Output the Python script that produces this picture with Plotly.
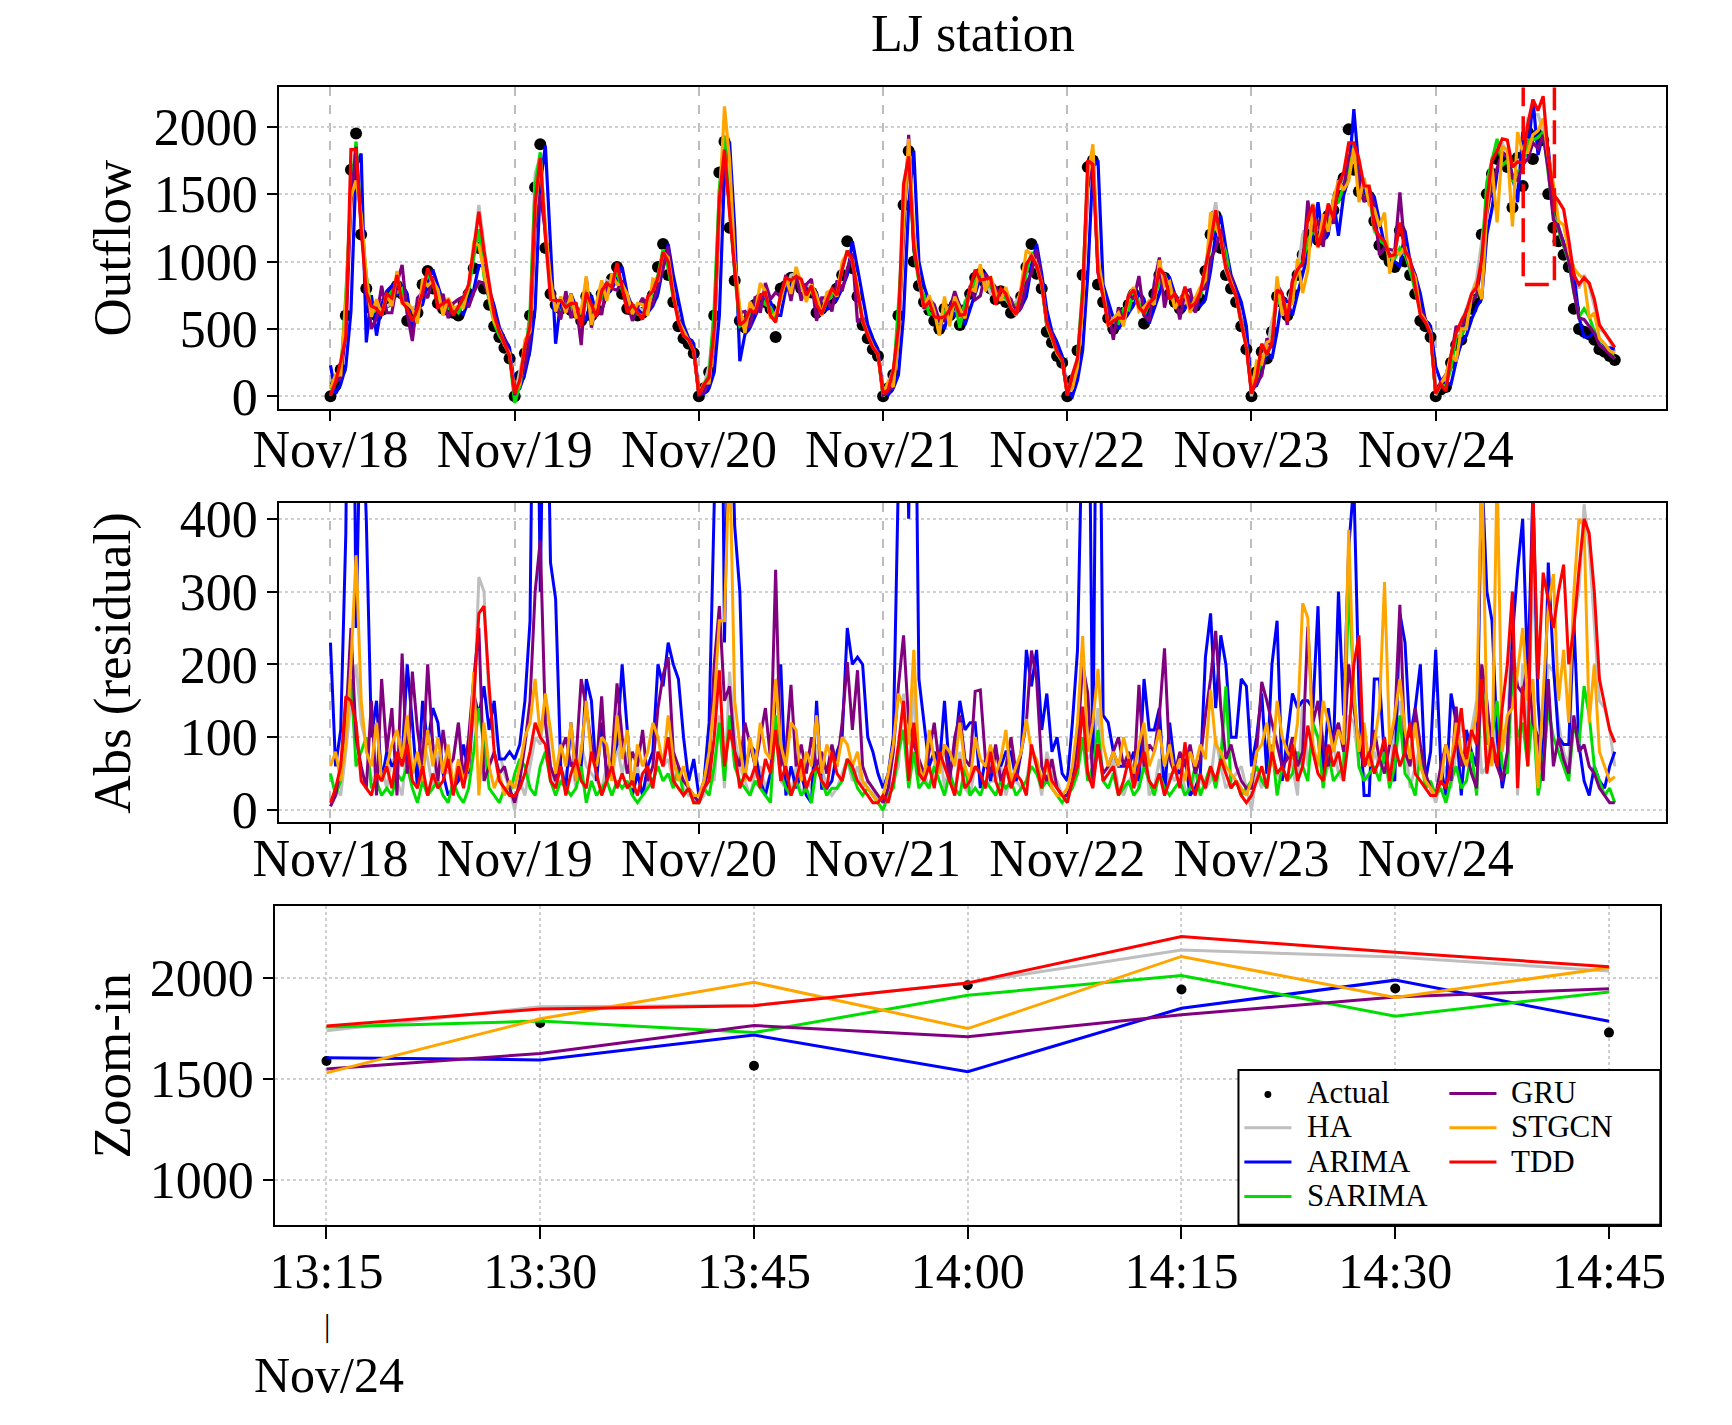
# LJ station: outflow, abs residuals and zoom-in of the model predictions
import plotly.graph_objects as go

days = ["Nov/18", "Nov/19", "Nov/20", "Nov/21", "Nov/22", "Nov/23", "Nov/24"]
per_day = 36  # half-hour samples per day

# observed outflow, one row per day
actual = [
    0, 80, 200, 600, 1680, 1950, 1200, 800, 650, 600, 640, 700, 760, 820, 760, 560, 600, 620, 830, 930, 800, 690, 650, 640, 620, 600, 700, 760, 950, 1100, 800, 680, 520, 440, 360, 280,
    0, 150, 320, 600, 1550, 1870, 1100, 760, 680, 650, 680, 640, 620, 560, 740, 600, 640, 760, 800, 870, 960, 760, 650, 640, 600, 620, 680, 750, 960, 1130, 900, 700, 520, 430, 390, 320,
    0, 60, 180, 600, 1660, 1890, 1250, 860, 560, 510, 600, 680, 720, 700, 650, 440, 800, 820, 880, 850, 800, 780, 770, 620, 650, 680, 720, 800, 900, 1150, 950, 740, 530, 430, 350, 300,
    0, 60, 160, 600, 1420, 1820, 1000, 820, 700, 640, 560, 500, 650, 600, 680, 530, 640, 760, 880, 910, 840, 800, 720, 780, 700, 620, 660, 740, 960, 1130, 910, 800, 480, 400, 300, 250,
    0, 120, 340, 900, 1700, 1750, 830, 700, 580, 500, 560, 620, 680, 760, 720, 540, 650, 760, 900, 880, 760, 700, 650, 720, 700, 670, 720, 930, 1200, 1340, 1100, 900, 800, 700, 520, 350,
    0, 180, 330, 280, 480, 740, 700, 600, 760, 900, 1050, 1200, 1340, 1160, 1200, 1340, 1380, 1490, 1620, 1980, 1680, 1520, 1500, 1480, 1300, 1120, 1050, 1000, 960, 1230, 1000, 900, 760, 560, 520, 440,
    0, 50, 70, 250, 380, 420, 560, 650, 720, 1200, 1500, 1650, 1760, 1770, 1700, 1400, 1770, 1560, 1960, 1760, 1940, 1900, 1500, 1250, 1150, 1050, 960, 650, 500, 480, 460, 420, 350, 330, 300, 270,
]

# prediction minus actual for every model (sign)
err_ha = [
    5, 30, -20, 80, -150, -200, 120, 90, -40, 50, 60, -30, -70, 40, -20, 90, 50, 60, -100, -70, 30, 80, 60, 50, 70, 120, 40, 50, 130, 320, 300, 150, 110, 80, 50, 30,
    0, 40, 20, -60, 100, -90, 150, 60, -30, 40, -50, 70, 30, 90, -60, 50, 40, -30, 60, -40, -90, 50, 80, 30, 60, 20, -40, 30, -80, -60, 70, 40, 60, 30, 20, 20,
    10, 20, 50, -40, -130, 30, 190, 100, 60, 40, 20, -50, -60, 30, 50, 110, -40, -30, 20, 60, -20, 40, 30, 90, 60, 30, 20, -30, 50, -70, 40, 60, 30, 40, 30, 10,
    0, 30, 40, -60, 160, -40, 170, 40, -50, 30, 60, 90, -30, 60, 20, 80, 30, 20, -60, -50, 30, -40, 40, -60, 20, 50, 40, 30, -40, -80, 60, 20, 80, 50, 40, 20,
    10, 40, -60, -90, -70, 80, 140, 40, 50, 70, 30, -20, 40, -50, 30, 100, 20, -30, -70, 30, 50, 40, 60, -30, 20, 50, 40, 30, 40, 100, 60, 30, 40, 50, 60, 30,
    0, 50, -30, 60, 80, -50, 40, 90, 60, 20, 150, 60, -110, 100, 40, -60, 90, 50, -40, -130, 120, 60, -50, 40, -80, 60, 100, 40, 120, -150, 90, 30, 60, 90, 40, 30,
    10, 40, 60, 30, 80, 120, 90, 110, 150, -50, -60, 120, 60, 110, 90, 300, -20, 200, 100, 330, 150, 70, 200, 190, 120, 80, 60, 260, 300, 420, 360, 250, 150, 140, 110, 60,
]
err_arima = [
    230, -60, -110, -380, -1050, -250, 600, -400, 100, -150, 40, 80, 60, -70, 70, 200, -120, 30, -150, -90, 140, 120, 50, 20, 30, 40, -90, -50, -160, -130, 170, 110, 150, 70, 70, 80,
    70, -90, -150, -260, -900, -300, 760, 340, -290, 60, -30, 120, 40, 60, -180, 150, -40, -120, -50, -70, -90, 200, 110, 20, 50, -20, -60, -80, -200, -170, 230, 200, 180, 100, 40, 70,
    20, -40, -120, -420, -1060, -230, 640, 390, -300, -50, -90, -80, -40, 20, 50, 160, -200, -20, -60, 30, 50, 20, 10, 150, -30, -30, -40, -80, -100, -250, 200, 210, 200, 100, 80, 50,
    30, -50, -100, -440, -820, -400, 820, 180, 120, 60, 80, 60, -150, 50, -80, 150, -110, -120, -120, -30, 70, 40, 80, -60, 80, 80, -40, -80, -220, -170, 220, 110, 160, 80, 100, 50,
    40, -120, -220, -560, -800, -50, 920, 130, 120, 80, -60, -60, -60, -80, 40, 180, -110, -110, -140, 20, 120, 60, 50, -70, 20, 30, -50, -210, -270, -140, 240, 200, 100, 100, 180, 170,
    60, -100, -160, 50, -200, -260, 40, 100, -160, -140, -150, -150, -140, 280, -40, -140, 80, -300, -130, -360, 450, 160, 20, 20, 180, 180, 70, 50, 40, -270, 230, 100, 140, 200, 40, 80,
    220, 60, 20, -160, -120, -20, -110, -80, -60, -470, -300, -260, -100, 30, 70, 240, -330, 400, -180, 440, -150, 50, 340, 200, 100, 90, 90, 260, 90, -40, -20, 60, 40, 30, 60, 80,
]
err_sarima = [
    50, 20, -40, 150, -180, -60, 80, 100, -30, 40, -20, 30, 20, -50, 40, 60, -30, 10, -40, -20, 30, 40, 20, 10, 40, 20, -10, 30, 80, 140, 90, 30, 20, 10, 30, 20,
    -50, -70, -60, 30, 20, -60, 80, 40, 20, -40, 30, 20, -30, 60, -10, 40, 20, -30, 40, -20, -40, 30, 40, 20, 10, -20, -30, 40, -60, -40, 50, 30, 60, 20, 30, 10,
    10, 30, -20, 60, -120, 40, 130, 60, -40, 30, 20, -40, 30, -20, 10, 130, -50, 30, -20, 40, 20, -30, 10, 60, -40, 20, 30, -30, 40, -70, 50, 30, 20, 30, 20, 10,
    0, 20, -30, 80, -110, 30, 80, 30, 40, -30, 60, 40, -20, 50, 30, -20, 60, 20, -30, 20, -40, 30, 20, -40, 30, 40, 20, -30, -40, -60, 50, 30, 40, 30, 20, 10,
    20, -30, -50, -100, -40, 60, 110, 40, 30, 50, -20, 30, -40, 20, -30, 60, 40, -20, -50, 30, 20, -30, 40, 20, -30, 60, 20, -40, -60, -30, 70, 170, 30, 40, 20, 30,
    40, -60, -40, 30, -90, 20, -60, 40, -50, 80, -60, -40, -120, 100, 30, -80, 40, -50, -60, -310, 170, 60, -40, 50, -60, 40, 80, 30, 60, -130, 50, 40, 20, 80, 30, 40,
    20, 30, 10, -40, 60, 30, -40, 80, 20, -180, 90, 100, 150, -60, 50, 190, -100, 120, -60, 140, -20, 60, 140, 100, 80, 60, 40, 120, 90, 170, 130, 60, 40, 20, 30, 10,
]
err_gru = [
    5, 20, -60, -120, -250, -100, 60, 30, -150, -20, 180, -80, -140, 20, 215, 50, -190, 110, -60, -200, 90, -40, 110, -60, 70, 120, 40, -100, -180, -250, 40, 60, 80, 50, 60, 30,
    10, -40, -90, -150, -300, -370, 120, 60, 40, -80, 100, -60, 70, -180, 140, -90, 60, -156, 40, -70, -174, 100, 50, -80, 60, 110, -40, -60, -140, -185, 210, 80, 60, 40, 30, 20,
    10, -30, -60, -200, -280, -150, 170, 80, 60, 120, -90, 60, -100, 140, 70, 330, -60, 80, -172, 60, -90, 50, 100, -60, 80, 50, -90, 60, -120, -203, 110, -192, 60, 40, 30, 20,
    10, -30, -80, -170, -240, 120, 90, 70, -50, 80, 120, 60, -90, 40, 100, 130, -70, 60, -163, -165, 70, 50, 90, -40, 60, 100, -50, -80, -120, -219, 180, 60, 40, 70, 30, 20,
    20, -40, -90, -200, -160, 40, 90, 50, 60, -80, 100, -60, 80, -40, 172, 60, -90, 80, 130, -222, 70, 50, -80, 60, 90, -50, 70, -130, -180, -246, 140, 70, 90, 60, 40, 30,
    30, -80, -176, 150, -120, 90, 60, -70, 100, 60, -80, 252, -120, 150, -90, 60, -100, 120, -80, -200, 140, 90, -60, 70, 110, -70, 50, 90, 120, 282, 80, 60, 140, 90, 50, 30,
    20, 60, 90, 40, 142, 60, 80, 50, 30, -200, -150, -80, -60, 40, 80, 220, -170, 160, -200, 120, -100, 40, 180, 60, 100, 70, 50, 130, 80, 90, 60, 50, 30, 20, 10, 10,
]
err_stgcn = [
    60, 80, -40, 90, -200, -350, 150, 80, -60, 120, -40, 60, -90, 110, -70, 130, 50, -80, 40, -110, 60, 100, -50, 90, 30, 70, -40, 60, 190, 20, 120, 60, 30, 50, 20, 40,
    30, -60, 100, -120, -180, -100, 160, 110, -50, 90, -60, 120, -40, 80, 150, -70, 60, 100, -90, 40, -130, 70, 110, -30, 90, 60, -80, 120, -100, -60, 130, 70, 40, 60, 30, 20,
    20, 40, -80, -150, -260, 260, 500, 150, 90, -40, 100, -60, 120, 80, -70, 180, -90, 60, -120, 110, 40, -80, 60, 130, -50, 90, 70, -60, 100, -90, 60, 80, 40, 30, 20, 10,
    20, 50, -90, -160, -140, 90, 220, 60, -40, 110, 70, -50, 90, -80, 60, 120, -60, 40, -100, 70, -60, 90, 50, -70, 110, 40, -60, 80, 125, -80, 70, 40, 60, 30, 20, 20,
    30, -60, -120, -239, -80, 120, 194, 90, -60, 80, 60, -100, 70, 50, -90, 120, 60, -80, 110, -60, 90, -50, 70, 40, -80, 60, 90, -70, 165, -90, 80, 60, 50, 40, 30, 20,
    40, 80, -90, 120, -60, 150, -100, 80, -70, 120, -284, -264, 90, -60, 150, -120, 80, 110, -90, -385, 160, -80, 120, -60, 90, 140, 313, -90, 130, -180, 110, 70, 120, 60, 40, 30,
    20, 40, 90, 60, -120, 80, -60, 100, 130, -480, -120, 60, -470, 80, 130, -140, 190, 250, -150, 180, 30, 160, 280, 324, 150, 220, 120, 300, 400, 390, 120, 200, 80, 60, 40, 46,
]
err_tdd = [
    10, 30, 60, -156, 150, -120, 40, -30, 20, 50, -40, 60, -30, 80, -60, 90, -40, 30, -60, 20, 50, -30, 40, 70, -20, 60, 30, 70, 150, 270, 280, 170, 80, 40, 30, 20,
    20, -30, 50, -80, -120, -100, 90, -40, 30, 60, -20, 50, 70, -40, 30, 80, -50, 20, 40, -60, 30, 50, -30, 40, 20, -50, 60, 30, -80, -60, 100, 40, 30, 20, 30, 10,
    10, 30, -40, -100, -192, -60, 110, 80, -30, 50, 40, -60, 30, 70, -50, 110, -40, 60, -20, 40, 70, -30, 50, 60, -40, 30, 80, -50, 40, -70, 60, 40, 30, 20, 10, 10,
    20, -10, 40, -90, 150, -40, 120, 50, -40, 60, 30, 80, -60, 40, 20, 70, -30, 40, 60, -50, 30, 80, -40, 20, 60, 30, -50, 40, 20, -90, 60, 30, 70, 40, 30, 20,
    10, 40, -60, -142, 50, -30, 90, 40, -50, 60, 20, -40, 70, 30, -60, 80, 40, -30, 50, 20, -40, 60, 30, 93, -40, 20, 50, 30, -60, 40, 70, 50, 30, 40, 20, 10,
    20, -40, 60, 30, -80, 50, 60, -40, 90, 40, -60, 116, 80, -50, 40, 90, -60, 80, 40, -100, 200, 240, 60, 80, -50, 70, 100, 40, 90, 60, 80, 120, 50, 40, 30, 20,
    20, 40, -30, 60, 90, 140, 70, 110, 90, -180, -50, 100, 60, 140, 200, 300, -30, 170, 60, 440, 180, 326, 290, 250, 300, 337, 200, 250, 330, 400, 380, 300, 180, 143, 110, 93,
]

# zoom-in window, Nov/24 afternoon
zoom_ticks = ["13:15", "13:30", "13:45", "14:00", "14:15", "14:30", "14:45"]
zoom_actual = [1588, 1776, 1564, 1962, 1941, 1946, 1728]
zoom_ha = [1737, 1856, 1862, 1973, 2136, 2101, 2032]
zoom_arima = [1604, 1593, 1716, 1535, 1848, 1987, 1784]
zoom_sarima = [1756, 1785, 1728, 1912, 2010, 1809, 1929]
zoom_gru = [1548, 1625, 1763, 1708, 1816, 1904, 1944]
zoom_stgcn = [1529, 1796, 1976, 1748, 2104, 1901, 2048]
zoom_tdd = [1760, 1845, 1861, 1973, 2202, 2125, 2053]

models = ["HA", "ARIMA", "SARIMA", "GRU", "STGCN", "TDD"]
errors = {"HA": err_ha, "ARIMA": err_arima, "SARIMA": err_sarima,
          "GRU": err_gru, "STGCN": err_stgcn, "TDD": err_tdd}
zoom_pred = {"HA": zoom_ha, "ARIMA": zoom_arima, "SARIMA": zoom_sarima,
             "GRU": zoom_gru, "STGCN": zoom_stgcn, "TDD": zoom_tdd}
colors = {"HA": "#bebebe", "ARIMA": "#0000ff", "SARIMA": "#00dd00",
          "GRU": "#800080", "STGCN": "#ffa500", "TDD": "#ff0000"}

n = len(days) * per_day
assert len(actual) == n
for m in models:
    assert len(errors[m]) == n, m

W, H = 1732, 1425
def px(x):
    return x / W
def py(y):
    return 1 - y / H

serif = "Liberation Serif"
t = list(range(n))
fig = go.Figure()

# top: outflow
fig.add_trace(go.Scatter(x=t, y=actual, mode="markers", marker=dict(color="black", size=12),
                         xaxis="x", yaxis="y", showlegend=False))
for m in models:
    pred = [a + e for a, e in zip(actual, errors[m])]
    fig.add_trace(go.Scatter(x=t, y=pred, mode="lines", line=dict(color=colors[m], width=3.2),
                             xaxis="x", yaxis="y", showlegend=False))

# middle: absolute residuals
for m in models:
    fig.add_trace(go.Scatter(x=t, y=[abs(e) for e in errors[m]], mode="lines",
                             line=dict(color=colors[m], width=3),
                             xaxis="x2", yaxis="y2", showlegend=False))

# bottom: zoom-in
zi = list(range(len(zoom_ticks)))
fig.add_trace(go.Scatter(x=zi, y=zoom_actual, mode="markers", marker=dict(color="black", size=10),
                         xaxis="x3", yaxis="y3", showlegend=False))
for m in models:
    fig.add_trace(go.Scatter(x=zi, y=zoom_pred[m], mode="lines", line=dict(color=colors[m], width=3),
                             xaxis="x3", yaxis="y3", showlegend=False))

def ax(size=52, **kw):
    d = dict(showline=True, mirror=True, linecolor="black", linewidth=2,
             ticks="outside", ticklen=10, tickwidth=2, tickcolor="black",
             tickfont=dict(family=serif, size=size, color="black"),
             zeroline=False, showgrid=True,
             gridcolor="#cfcfcf", gridwidth=1.5, griddash="dot")
    d.update(kw)
    return d

day_ticks = [i * per_day for i in range(len(days))]
xr = [-0.04 * (n - 1), (n - 1) * 1.04]

fig.update_layout(
    width=W, height=H,
    margin=dict(l=0, r=0, t=0, b=0, pad=0),
    plot_bgcolor="white", paper_bgcolor="white",
    font=dict(family=serif, color="black"),
    xaxis=ax(domain=[px(257), px(1671)], anchor="y", range=xr, tickvals=day_ticks,
             ticktext=days, griddash="dash", gridcolor="#bdbdbd", ticklabelstandoff=-16),
    yaxis=ax(domain=[py(405), py(77)], anchor="x", range=[-92, 2291],
             tickvals=[0, 500, 1000, 1500, 2000], ticklabelstandoff=-1),
    xaxis2=ax(domain=[px(257), px(1671)], anchor="y2", range=xr, tickvals=day_ticks,
              ticktext=days, griddash="dash", gridcolor="#bdbdbd", ticklabelstandoff=-21),
    yaxis2=ax(domain=[py(827), py(501)], anchor="x2", range=[-16.7, 422],
              tickvals=[0, 100, 200, 300, 400], ticklabelstandoff=-1),
    xaxis3=ax(size=50, domain=[px(253), px(1665)], anchor="y3", range=[-0.24, 6.24],
              tickvals=zi, ticktext=zoom_ticks, ticklen=12, ticklabelstandoff=-11),
    yaxis3=ax(domain=[py(1238), py(913)], anchor="x3", range=[779, 2351],
              tickvals=[1000, 1500, 2000], ticklabelstandoff=-1),
)

# dashed box marking the zoom-in window (open at the top)
x0, x1 = 6 * per_day + 17.1, 6 * per_day + 23.2
fig.add_shape(type="path", xref="x", yref="y",
              path=f"M {x0},2330 L {x0},829 L {x1},829 L {x1},2330",
              line=dict(color="red", width=3.5, dash="24px,10px"))

annos = [
    dict(text="LJ station", x=px(964), y=py(22), font=dict(size=52)),
    dict(text="Outflow", x=px(87), y=py(241), textangle=-90, font=dict(size=53)),
    dict(text="Abs (residual)", x=px(87), y=py(664), textangle=-90, font=dict(size=53)),
    dict(text="Zoom-in", x=px(87), y=py(1076), textangle=-90, font=dict(size=53)),
    dict(text="|", x=px(306), y=py(1340), font=dict(size=32)),
    dict(text="Nov/24", x=px(308), y=py(1391), font=dict(size=50)),
]
for a in annos:
    a.update(xref="paper", yref="paper", showarrow=False, xanchor="center", yanchor="middle")
    a["font"].update(family=serif, color="black")
    fig.add_annotation(**a)

# legend box drawn by hand (two columns, column-wise order like the original)
fig.add_shape(type="rect", xref="paper", yref="paper", x0=px(1235), x1=px(1665),
              y0=py(1238), y1=py(1080), line=dict(color="black", width=2), fillcolor="white")
rows = [1103, 1138, 1173, 1208]
entries = [("Actual", 0, 0), ("HA", 0, 1), ("ARIMA", 0, 2), ("SARIMA", 0, 3),
           ("GRU", 1, 0), ("STGCN", 1, 1), ("TDD", 1, 2)]
col_line = [(1241, 1289), (1450, 1498)]
col_text = [1303, 1511]
for name, c, r in entries:
    y = rows[r]
    if name == "Actual":
        cx = (col_line[c][0] + col_line[c][1]) / 2
        fig.add_shape(type="circle", xref="paper", yref="paper",
                      x0=px(cx - 3.5), x1=px(cx + 3.5), y0=py(y + 5.5), y1=py(y - 1.5),
                      fillcolor="black", line=dict(color="black", width=0))
    else:
        fig.add_shape(type="line", xref="paper", yref="paper",
                      x0=px(col_line[c][0]), x1=px(col_line[c][1]), y0=py(y + 1), y1=py(y + 1),
                      line=dict(color=colors[name], width=3))
    fig.add_annotation(text=name, xref="paper", yref="paper", x=px(col_text[c]), y=py(y),
                       xanchor="left", yanchor="middle", showarrow=False,
                       font=dict(family=serif, size=31, color="black"))

fig.write_html("out.html", config={"displayModeBar": False},
               post_script="document.body.style.margin='0';")
